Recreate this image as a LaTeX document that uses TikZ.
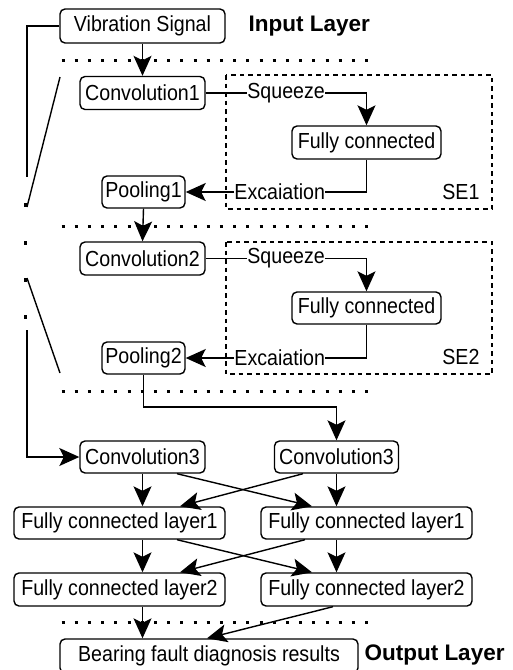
\documentclass[tikz,border=0pt]{standalone}
\usepackage{fontspec}
\setmainfont{Liberation Sans}
\newfontfamily\tallfont[FakeStretch=0.9]{Liberation Sans}
\usetikzlibrary{arrows.meta,calc}
\begin{document}
\begin{tikzpicture}[x=1pt,y=-1pt,
  every node/.style={font=\tallfont\fontsize{21.8}{25}\selectfont},
  box/.style={draw, rounded corners=5pt, line width=1.4pt, inner sep=0pt, fill=white},
  conn/.style={line width=1.4pt},
  arr/.style={conn, -{Stealth[length=20pt,width=18pt,inset=4.5pt]}},
  dotline/.style={line width=3pt, dash pattern=on 3pt off 10.2pt},
  sebox/.style={line width=1.3pt, dash pattern=on 4.5pt off 4pt},
  lab/.style={fill=white, inner sep=0.5pt},
  heading/.style={font=\fontsize{22.5}{26}\selectfont\bfseries},
  sq/.style={fill=black, minimum size=3.2pt, inner sep=0pt}
]
\useasboundingbox (0,0) rectangle (512,670);

% SE boxes
\draw[sebox] (226,75) rectangle (492,209);
\draw[sebox] (226,242) rectangle (492,374);

% dotted separators
\draw[dotline] (61.5,60) -- (370,60);
\draw[dotline] (61.5,226) -- (370,226);
\draw[dotline] (61.5,391) -- (370,391);
\draw[dotline] (61.5,622) -- (370,622);

% nodes
\node[box, minimum width=165pt, minimum height=34pt] (vs) at (142.5,26) {Vibration Signal};
\node[heading, anchor=west] (inl) at (245,26) {Input Layer};
\node[box, minimum width=125pt, minimum height=33pt] (c1) at (142.5,93) {Convolution1};
\node[box, minimum width=149pt, minimum height=33pt] (f1) at (366.5,142.5) {Fully connected};
\node[box, minimum width=83pt, minimum height=32pt] (p1) at (143.5,192) {Pooling1};
\node[anchor=east] (se1) at (483,192) {SE1};

\node[box, minimum width=125pt, minimum height=33pt] (c2) at (142.5,258.5) {Convolution2};
\node[box, minimum width=149pt, minimum height=32pt] (f2) at (366.5,308) {Fully connected};
\node[box, minimum width=83pt, minimum height=32pt] (p2) at (143.5,358) {Pooling2};
\node[anchor=east] (se2) at (483,357) {SE2};

\node[box, minimum width=125pt, minimum height=32pt] (c3a) at (142.5,457) {Convolution3};
\node[box, minimum width=124pt, minimum height=32pt] (c3b) at (336.5,457) {Convolution3};
\node[box, minimum width=211pt, minimum height=32pt] (fa1) at (119.5,523) {Fully connected layer1};
\node[box, minimum width=211pt, minimum height=32pt] (fb1) at (366.5,523) {Fully connected layer1};
\node[box, minimum width=211pt, minimum height=33pt] (fa2) at (119.5,589.5) {Fully connected layer2};
\node[box, minimum width=211pt, minimum height=33pt] (fb2) at (366.5,589.5) {Fully connected layer2};
\node[box, minimum width=298pt, minimum height=34pt] (out) at (209,656) {Bearing fault diagnosis results};
\node[heading, anchor=west] (outl) at (361,655) {Output Layer};

% stage 1
\draw[arr] (vs.south) -- (c1.north);
\draw[arr] (c1.east) -| (f1.north) node[lab, pos=0.25] {Squeeze};
\draw[arr] (f1.south) |- (p1.east) node[lab, pos=0.74] {Excaiation};
\draw[arr] (p1.south) -- (c2.north);
% stage 2
\draw[arr] (c2.east) -| (f2.north) node[lab, pos=0.25] {Squeeze};
\draw[arr] (f2.south) |- (p2.east) node[lab, pos=0.74] {Excaiation};
\coordinate (pbend) at (143.5,407);
\draw[arr] (p2.south) -- (pbend) -| (c3b.north);

% left side switch
\coordinate (l1) at (27,26);
\coordinate (l2) at (27,177);
\draw[conn] (vs.west) -- (l1) -- (l2);
\coordinate (d1a) at (60,77);
\coordinate (d1b) at (27,207);
\draw[conn] (d1a) -- (d1b);
\node[sq] (k1) at (25.5,205) {};
\node[sq] (k2) at (25.5,243) {};
\node[sq] (k3) at (25.5,280) {};
\node[sq] (k4) at (25.5,317) {};
\coordinate (d2a) at (27,278);
\coordinate (d2b) at (60,373);
\draw[conn] (d2a) -- (d2b);
\coordinate (l3) at (27,330);
\coordinate (l4) at (27,457);
\draw[arr] (l3) -- (l4) -- (c3a.west);

% conv3 -> fc1
\draw[arr] (c3a.south) -- (c3a.south |- fa1.north);
\draw[arr] (c3b.south) -- (c3b.south |- fb1.north);
\draw[arr] ($(c3a.south)+(34.5,0)$) -- ($(fb1.north)+(-54.5,0)$);
\draw[arr] ($(c3b.south)+(-33.5,0)$) -- ($(fa1.north)+(60.5,0)$);

% fc1 -> fc2
\draw[arr] (c3a.south |- fa1.south) -- (c3a.south |- fa2.north);
\draw[arr] (c3b.south |- fb1.south) -- (c3b.south |- fb2.north);
\draw[arr] ($(fa1.south)+(57.5,0)$) -- ($(fb2.north)+(-54.5,0)$);
\draw[arr] ($(fb1.south)+(-61.5,0)$) -- ($(fa2.north)+(60.5,0)$);

% fc2 -> out
\draw[arr] (c3a.south |- fa2.south) -- (c3a.south |- out.north);
\draw[arr] ($(fb2.south)+(-33.5,0)$) -- ($(out.north)+(-2,0)$);
\end{tikzpicture}
\end{document}
